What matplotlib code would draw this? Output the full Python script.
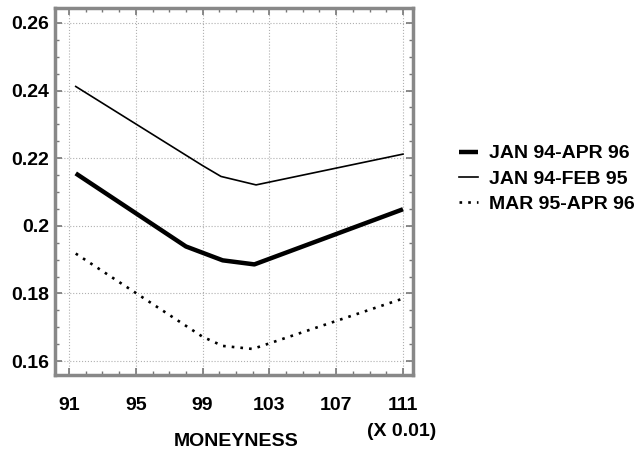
import matplotlib
matplotlib.use('Agg')
import matplotlib.pyplot as plt
from matplotlib.ticker import MultipleLocator

plt.rcParams['font.family'] = ['Liberation Sans', 'DejaVu Sans']
plt.rcParams['font.weight'] = 'bold'

# implied volatility vs moneyness (x 0.01)
full_x = [91.4, 98, 100.2, 102.1, 111]
full_y = [0.2155, 0.1939, 0.1898, 0.1886, 0.2049]
early_x = [91.4, 99, 100.1, 102.2, 111]
early_y = [0.2412, 0.2178, 0.2146, 0.2121, 0.2212]
late_x = [91.4, 99, 100.2, 102.0, 111]
late_y = [0.1918, 0.1672, 0.1645, 0.1636, 0.1785]

x_ticks = [91, 95, 99, 103, 107, 111]
y_ticks = [0.16, 0.18, 0.2, 0.22, 0.24, 0.26]
y_labels = ['0.16', '0.18', '0.2', '0.22', '0.24', '0.26']

fig = plt.figure(figsize=(6.42, 4.51), dpi=100)
ax = fig.add_axes([0.0857, 0.1685, 0.5576, 0.8138])

l1, = ax.plot(full_x, full_y, color='black', lw=3.2, solid_capstyle='butt')
l2, = ax.plot(early_x, early_y, color='black', lw=1.2)
l3, = ax.plot(late_x, late_y, color='black', lw=1.9, linestyle=(0, (1, 2.3)))

ax.set_xlim(90.16, 111.6)
ax.set_ylim(0.1559, 0.2644)
ax.set_xticks(x_ticks)
ax.set_yticks(y_ticks)
ax.set_yticklabels(y_labels)
ax.xaxis.set_minor_locator(MultipleLocator(1))
ax.yaxis.set_minor_locator(MultipleLocator(0.005))
ax.tick_params(which='both', direction='in', top=True, right=True, colors='#777777',
               labelcolor='black', labelsize=14)
ax.tick_params(which='major', length=5, width=1.2)
ax.tick_params(which='minor', length=3, width=1)
ax.tick_params(axis='x', pad=16)
ax.tick_params(axis='y', pad=4)
for lab in ax.get_xticklabels() + ax.get_yticklabels():
    lab.set_fontweight('bold')

ax.grid(True, which='major', color='#b0b0b0', linestyle=':', lw=0.8)
for s in ax.spines.values():
    s.set_color('#888888')
    s.set_linewidth(2.5)

fig.text(236 / 642, 1 - 442 / 451, 'MONEYNESS', ha='center', va='center',
         fontsize=14, fontweight='bold')
fig.text(402 / 642, 1 - 432 / 451, '(X 0.01)', ha='center', va='center',
         fontsize=14, fontweight='bold')

fig.legend([l1, l2, l3], ['JAN 94-APR 96', 'JAN 94-FEB 95', 'MAR 95-APR 96'],
           loc='center left', bbox_to_anchor=(459 / 642, 1 - 179 / 451),
           frameon=False, handlelength=1.0, handletextpad=0.55,
           labelspacing=0.4, borderpad=0, borderaxespad=0,
           prop={'weight': 'bold', 'size': 14})

fig.savefig('out.png', dpi=100)
